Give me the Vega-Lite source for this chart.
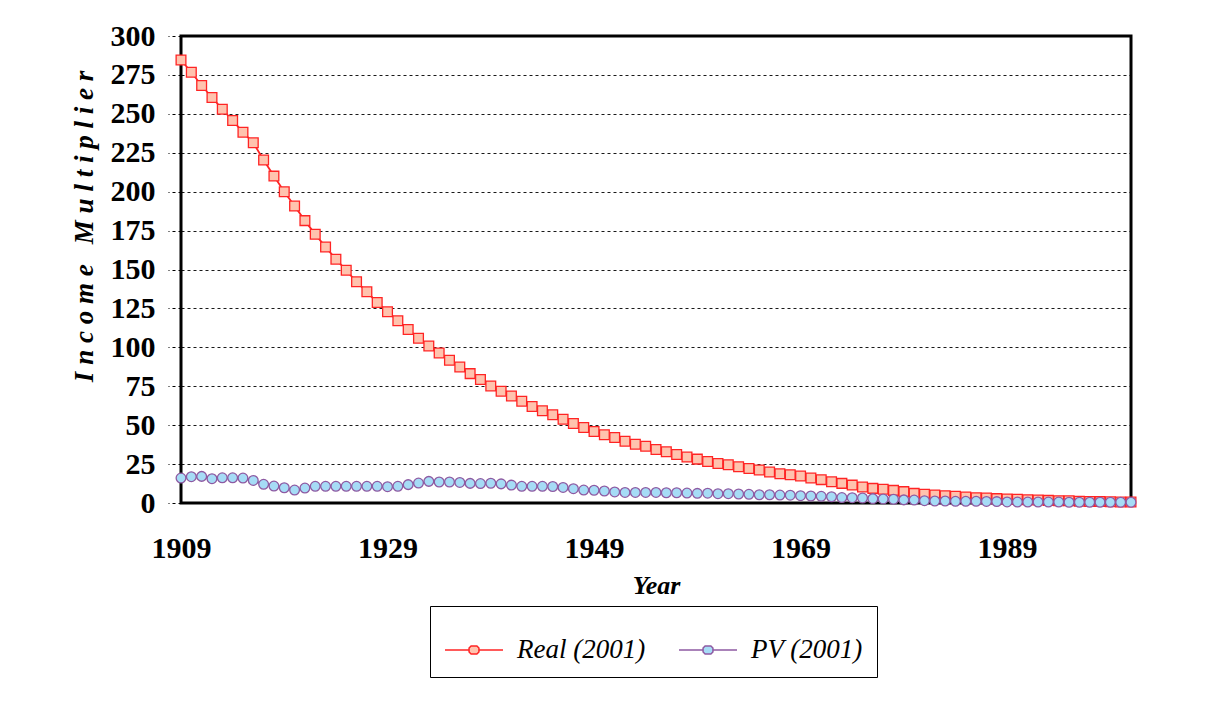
{
  "$schema": "https://vega.github.io/schema/vega-lite/v6.json",
  "width": 950,
  "height": 467,
  "autosize": {"type": "none"},
  "padding": {"left": 181, "top": 36, "right": 100, "bottom": 205},
  "background": "white",
  "config": {
    "view": {"stroke": "black", "strokeWidth": 3},
    "font": "Liberation Serif"
  },
  "datasets": {
    "rows": [
      {"year":1909,"series":"Real (2001)","value":284.6},{"year":1910,"series":"Real (2001)","value":276.7},{"year":1911,"series":"Real (2001)","value":268.2},{"year":1912,"series":"Real (2001)","value":260.5},{"year":1913,"series":"Real (2001)","value":253.0},{"year":1914,"series":"Real (2001)","value":245.7},{"year":1915,"series":"Real (2001)","value":238.2},{"year":1916,"series":"Real (2001)","value":231.4},{"year":1917,"series":"Real (2001)","value":220.3},{"year":1918,"series":"Real (2001)","value":210.0},
      {"year":1919,"series":"Real (2001)","value":200.0},{"year":1920,"series":"Real (2001)","value":190.8},{"year":1921,"series":"Real (2001)","value":181.4},{"year":1922,"series":"Real (2001)","value":172.6},{"year":1923,"series":"Real (2001)","value":164.5},{"year":1924,"series":"Real (2001)","value":156.6},{"year":1925,"series":"Real (2001)","value":149.5},{"year":1926,"series":"Real (2001)","value":142.1},{"year":1927,"series":"Real (2001)","value":135.7},{"year":1928,"series":"Real (2001)","value":128.8},
      {"year":1929,"series":"Real (2001)","value":122.9},{"year":1930,"series":"Real (2001)","value":117.1},{"year":1931,"series":"Real (2001)","value":111.5},{"year":1932,"series":"Real (2001)","value":105.8},{"year":1933,"series":"Real (2001)","value":100.9},{"year":1934,"series":"Real (2001)","value":96.4},{"year":1935,"series":"Real (2001)","value":91.7},{"year":1936,"series":"Real (2001)","value":87.4},{"year":1937,"series":"Real (2001)","value":83.1},{"year":1938,"series":"Real (2001)","value":79.3},
      {"year":1939,"series":"Real (2001)","value":75.2},{"year":1940,"series":"Real (2001)","value":71.8},{"year":1941,"series":"Real (2001)","value":68.8},{"year":1942,"series":"Real (2001)","value":65.4},{"year":1943,"series":"Real (2001)","value":62.0},{"year":1944,"series":"Real (2001)","value":59.3},{"year":1945,"series":"Real (2001)","value":56.7},{"year":1946,"series":"Real (2001)","value":53.8},{"year":1947,"series":"Real (2001)","value":51.1},{"year":1948,"series":"Real (2001)","value":48.5},
      {"year":1949,"series":"Real (2001)","value":45.9},{"year":1950,"series":"Real (2001)","value":43.8},{"year":1951,"series":"Real (2001)","value":42.1},{"year":1952,"series":"Real (2001)","value":39.7},{"year":1953,"series":"Real (2001)","value":37.8},{"year":1954,"series":"Real (2001)","value":36.5},{"year":1955,"series":"Real (2001)","value":34.4},{"year":1956,"series":"Real (2001)","value":32.9},{"year":1957,"series":"Real (2001)","value":31.2},{"year":1958,"series":"Real (2001)","value":29.5},
      {"year":1959,"series":"Real (2001)","value":28.2},{"year":1960,"series":"Real (2001)","value":26.7},{"year":1961,"series":"Real (2001)","value":25.4},{"year":1962,"series":"Real (2001)","value":24.6},{"year":1963,"series":"Real (2001)","value":23.3},{"year":1964,"series":"Real (2001)","value":22.2},{"year":1965,"series":"Real (2001)","value":21.2},{"year":1966,"series":"Real (2001)","value":19.9},{"year":1967,"series":"Real (2001)","value":18.8},{"year":1968,"series":"Real (2001)","value":18.2},
      {"year":1969,"series":"Real (2001)","value":17.3},{"year":1970,"series":"Real (2001)","value":16.0},{"year":1971,"series":"Real (2001)","value":15.0},{"year":1972,"series":"Real (2001)","value":13.6},{"year":1973,"series":"Real (2001)","value":12.6},{"year":1974,"series":"Real (2001)","value":11.5},{"year":1975,"series":"Real (2001)","value":10.3},{"year":1976,"series":"Real (2001)","value":9.4},{"year":1977,"series":"Real (2001)","value":8.8},{"year":1978,"series":"Real (2001)","value":8.1},
      {"year":1979,"series":"Real (2001)","value":7.3},{"year":1980,"series":"Real (2001)","value":6.2},{"year":1981,"series":"Real (2001)","value":5.6},{"year":1982,"series":"Real (2001)","value":5.1},{"year":1983,"series":"Real (2001)","value":4.7},{"year":1984,"series":"Real (2001)","value":4.3},{"year":1985,"series":"Real (2001)","value":3.8},{"year":1986,"series":"Real (2001)","value":3.4},{"year":1987,"series":"Real (2001)","value":3.2},{"year":1988,"series":"Real (2001)","value":2.8},
      {"year":1989,"series":"Real (2001)","value":2.6},{"year":1990,"series":"Real (2001)","value":2.4},{"year":1991,"series":"Real (2001)","value":2.1},{"year":1992,"series":"Real (2001)","value":1.9},{"year":1993,"series":"Real (2001)","value":1.7},{"year":1994,"series":"Real (2001)","value":1.5},{"year":1995,"series":"Real (2001)","value":1.4},{"year":1996,"series":"Real (2001)","value":1.1},{"year":1997,"series":"Real (2001)","value":1.0},{"year":1998,"series":"Real (2001)","value":0.9},
      {"year":1999,"series":"Real (2001)","value":0.8},{"year":2000,"series":"Real (2001)","value":0.7},{"year":2001,"series":"Real (2001)","value":0.6},
      {"year":1909,"series":"PV (2001)","value":16.0},{"year":1910,"series":"PV (2001)","value":16.9},{"year":1911,"series":"PV (2001)","value":17.1},{"year":1912,"series":"PV (2001)","value":15.6},{"year":1913,"series":"PV (2001)","value":16.2},{"year":1914,"series":"PV (2001)","value":16.2},{"year":1915,"series":"PV (2001)","value":16.0},{"year":1916,"series":"PV (2001)","value":14.5},{"year":1917,"series":"PV (2001)","value":12.0},{"year":1918,"series":"PV (2001)","value":10.9},
      {"year":1919,"series":"PV (2001)","value":9.8},{"year":1920,"series":"PV (2001)","value":8.3},{"year":1921,"series":"PV (2001)","value":9.6},{"year":1922,"series":"PV (2001)","value":10.7},{"year":1923,"series":"PV (2001)","value":10.7},{"year":1924,"series":"PV (2001)","value":10.7},{"year":1925,"series":"PV (2001)","value":10.7},{"year":1926,"series":"PV (2001)","value":10.7},{"year":1927,"series":"PV (2001)","value":10.7},{"year":1928,"series":"PV (2001)","value":10.7},
      {"year":1929,"series":"PV (2001)","value":10.5},{"year":1930,"series":"PV (2001)","value":10.7},{"year":1931,"series":"PV (2001)","value":11.8},{"year":1932,"series":"PV (2001)","value":12.8},{"year":1933,"series":"PV (2001)","value":13.9},{"year":1934,"series":"PV (2001)","value":13.5},{"year":1935,"series":"PV (2001)","value":13.5},{"year":1936,"series":"PV (2001)","value":13.2},{"year":1937,"series":"PV (2001)","value":12.6},{"year":1938,"series":"PV (2001)","value":12.5},
      {"year":1939,"series":"PV (2001)","value":12.7},{"year":1940,"series":"PV (2001)","value":12.3},{"year":1941,"series":"PV (2001)","value":11.5},{"year":1942,"series":"PV (2001)","value":10.7},{"year":1943,"series":"PV (2001)","value":10.7},{"year":1944,"series":"PV (2001)","value":10.7},{"year":1945,"series":"PV (2001)","value":10.6},{"year":1946,"series":"PV (2001)","value":10.0},{"year":1947,"series":"PV (2001)","value":9.2},{"year":1948,"series":"PV (2001)","value":8.3},
      {"year":1949,"series":"PV (2001)","value":8.2},{"year":1950,"series":"PV (2001)","value":7.7},{"year":1951,"series":"PV (2001)","value":7.1},{"year":1952,"series":"PV (2001)","value":6.8},{"year":1953,"series":"PV (2001)","value":6.8},{"year":1954,"series":"PV (2001)","value":6.8},{"year":1955,"series":"PV (2001)","value":6.8},{"year":1956,"series":"PV (2001)","value":6.6},{"year":1957,"series":"PV (2001)","value":6.6},{"year":1958,"series":"PV (2001)","value":6.4},
      {"year":1959,"series":"PV (2001)","value":6.2},{"year":1960,"series":"PV (2001)","value":6.3},{"year":1961,"series":"PV (2001)","value":6.0},{"year":1962,"series":"PV (2001)","value":6.0},{"year":1963,"series":"PV (2001)","value":5.8},{"year":1964,"series":"PV (2001)","value":5.6},{"year":1965,"series":"PV (2001)","value":5.3},{"year":1966,"series":"PV (2001)","value":5.3},{"year":1967,"series":"PV (2001)","value":5.1},{"year":1968,"series":"PV (2001)","value":5.0},
      {"year":1969,"series":"PV (2001)","value":4.7},{"year":1970,"series":"PV (2001)","value":4.5},{"year":1971,"series":"PV (2001)","value":4.3},{"year":1972,"series":"PV (2001)","value":4.0},{"year":1973,"series":"PV (2001)","value":3.5},{"year":1974,"series":"PV (2001)","value":3.4},{"year":1975,"series":"PV (2001)","value":3.2},{"year":1976,"series":"PV (2001)","value":2.8},{"year":1977,"series":"PV (2001)","value":2.6},{"year":1978,"series":"PV (2001)","value":2.4},
      {"year":1979,"series":"PV (2001)","value":2.0},{"year":1980,"series":"PV (2001)","value":1.9},{"year":1981,"series":"PV (2001)","value":1.5},{"year":1982,"series":"PV (2001)","value":1.3},{"year":1983,"series":"PV (2001)","value":1.3},{"year":1984,"series":"PV (2001)","value":1.1},{"year":1985,"series":"PV (2001)","value":1.1},{"year":1986,"series":"PV (2001)","value":1.1},{"year":1987,"series":"PV (2001)","value":1.0},{"year":1988,"series":"PV (2001)","value":0.9},
      {"year":1989,"series":"PV (2001)","value":0.7},{"year":1990,"series":"PV (2001)","value":0.6},{"year":1991,"series":"PV (2001)","value":0.6},{"year":1992,"series":"PV (2001)","value":0.6},{"year":1993,"series":"PV (2001)","value":0.6},{"year":1994,"series":"PV (2001)","value":0.6},{"year":1995,"series":"PV (2001)","value":0.5},{"year":1996,"series":"PV (2001)","value":0.5},{"year":1997,"series":"PV (2001)","value":0.5},{"year":1998,"series":"PV (2001)","value":0.5},
      {"year":1999,"series":"PV (2001)","value":0.5},{"year":2000,"series":"PV (2001)","value":0.5},{"year":2001,"series":"PV (2001)","value":0.5}
    ]
  },
  "data": {"name": "rows"},
  "encoding": {
    "x": {
      "field": "year", "type": "quantitative",
      "scale": {"domain": [1909, 2001], "nice": false, "zero": false},
      "axis": {
        "values": [1909, 1929, 1949, 1969, 1989], "format": "d",
        "ticks": false, "domain": false, "grid": false,
        "labelFont": "Liberation Serif", "labelFontSize": 30, "labelFontWeight": "bold", "labelColor": "black",
        "labelPadding": 30, "labelFlush": false, "labelOverlap": false,
        "title": "Year", "titleFont": "Liberation Serif", "titleFontSize": 26, "titleFontStyle": "italic", "titleFontWeight": "bold", "titleColor": "black",
        "titleY": 90, "titleBaseline": "alphabetic"
      }
    },
    "y": {
      "field": "value", "type": "quantitative",
      "scale": {"domain": [0, 300], "nice": false, "zero": true},
      "axis": {
        "values": [0, 25, 50, 75, 100, 125, 150, 175, 200, 225, 250, 275, 300],
        "domain": false,
        "grid": true, "gridColor": "black", "gridDash": [3, 3], "gridWidth": 1, "gridOpacity": 0.9,
        "ticks": true, "tickColor": "black", "tickDash": [3, 3], "tickSize": 13, "tickWidth": 1,
        "labelFont": "Liberation Serif", "labelFontSize": 30, "labelFontWeight": "bold", "labelColor": "black",
        "labelPadding": 13, "labelFlush": false, "labelOverlap": false,
        "title": "I n c o m e \u00a0 M u l t i p l i e r",
        "titleFont": "Liberation Serif", "titleFontSize": 27, "titleFontStyle": "italic", "titleFontWeight": "bold", "titleColor": "black",
        "titleAngle": -90, "titleX": -97, "titleY": 190, "titleAlign": "center", "titleBaseline": "middle"
      }
    }
  },
  "layer": [
    {
      "mark": {"type": "line", "strokeWidth": 1.8},
      "encoding": {
        "stroke": {"field": "series", "type": "nominal", "scale": {"domain": ["Real (2001)", "PV (2001)"], "range": ["#FF2424", "#8E5AA2"]}}
      }
    },
    {
      "transform": [{"filter": {"field": "series", "equal": "Real (2001)"}}],
      "mark": {"type": "point", "shape": "square", "filled": true, "size": 95, "strokeWidth": 1.3, "opacity": 1},
      "encoding": {
        "stroke": {
          "field": "series", "type": "nominal",
          "scale": {"domain": ["Real (2001)", "PV (2001)"], "range": ["#FF2424", "#8E5AA2"]},
          "legend": {
            "orient": "none", "legendX": 249, "legendY": 570, "direction": "horizontal", "title": null,
            "labelFont": "Liberation Serif", "labelFontSize": 27, "labelFontStyle": "italic", "labelColor": "black",
            "strokeColor": "black", "fillColor": "white", "padding": 14,
            "symbolType": "M-1,0H-0.17M0.17,0H1M-0.17,-0.07L-0.1,-0.14H0.1L0.17,-0.07V0.07L0.1,0.14H-0.1L-0.17,0.07Z",
            "symbolSize": 3364, "symbolStrokeWidth": 1.5, "labelOffset": 13, "columnPadding": 30
          }
        },
        "fill": {"field": "series", "type": "nominal", "scale": {"domain": ["Real (2001)", "PV (2001)"], "range": ["#FFC3AE", "#A6DCF6"]}, "legend": null}
      }
    },
    {
      "transform": [{"filter": {"field": "series", "equal": "PV (2001)"}}],
      "mark": {"type": "point", "shape": "circle", "filled": true, "size": 95, "strokeWidth": 1.3, "opacity": 1},
      "encoding": {
        "stroke": {"field": "series", "type": "nominal", "scale": {"domain": ["Real (2001)", "PV (2001)"], "range": ["#FF2424", "#8E5AA2"]}},
        "fill": {"field": "series", "type": "nominal", "scale": {"domain": ["Real (2001)", "PV (2001)"], "range": ["#FFC3AE", "#A6DCF6"]}, "legend": null}
      }
    }
  ]
}
